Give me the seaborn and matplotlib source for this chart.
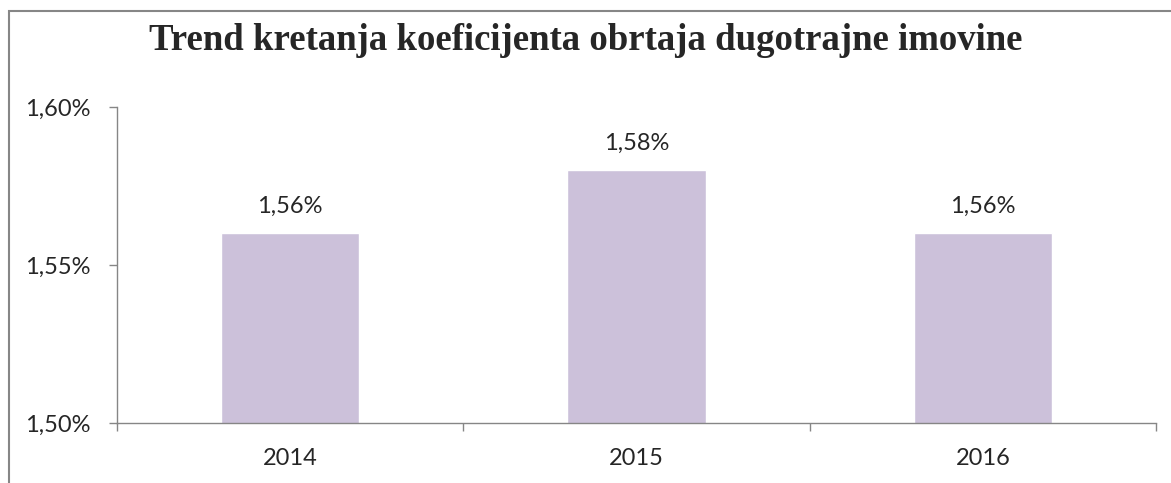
import pandas as pd
import matplotlib.pyplot as plt
from matplotlib.patches import Rectangle
from matplotlib.ticker import FuncFormatter
import seaborn as sns

years = ['2014', '2015', '2016']
values = [1.56, 1.58, 1.56]
y_ticks = [1.50, 1.55, 1.60]
title = 'Trend kretanja koeficijenta obrtaja dugotrajne imovine'

bar_color = '#CCC1DA'
axis_color = '#868686'

sns.set_style('white')
plt.rcParams['font.family'] = ['Lato', 'DejaVu Sans']

df = pd.DataFrame({'year': years, 'value': values})

W, H = 1171, 483
fig = plt.figure(figsize=(W / 100, H / 100), dpi=100)
ax = fig.add_axes([117 / W, (H - 423) / H, (1156 - 117) / W, (423 - 107) / H])

sns.barplot(data=df, x='year', y='value', color=bar_color, width=0.4,
            saturation=1, ax=ax)

ax.set_ylim(1.50, 1.60)
ax.set_xlim(-0.5, 2.5)
ax.set_yticks(y_ticks)
ax.yaxis.set_major_formatter(FuncFormatter(lambda v, p: f'{v:.2f}%'.replace('.', ',')))
ax.set_xticks([-0.5, 0.5, 1.5, 2.5], minor=True)
ax.tick_params(axis='x', which='major', bottom=True, length=0, pad=18, labelsize=17)
ax.tick_params(axis='x', which='minor', bottom=True, length=6, width=1, color=axis_color)
ax.tick_params(axis='y', left=True, length=6, width=1, color=axis_color, pad=13, labelsize=17)
ax.set_xlabel('')
ax.set_ylabel('')

for side in ['top', 'right']:
    ax.spines[side].set_visible(False)
for side in ['left', 'bottom']:
    ax.spines[side].set_color(axis_color)
    ax.spines[side].set_linewidth(1)

for i, v in enumerate(values):
    ax.annotate(f'{v:.2f}%'.replace('.', ','), (i, v), xytext=(0, 12),
                textcoords='offset points', ha='center', va='bottom', fontsize=17)

fig.text(0.5, 1 - 40 / H, title, ha='center', va='center', fontsize=26.5,
         fontweight='bold', family=['Liberation Serif', 'DejaVu Serif'])

# chart-area frame (cut off at right and bottom in the original)
fig.patches.append(Rectangle((8.5 / W, -0.1), 2, 1.1 - 11.5 / H,
                             transform=fig.transFigure, fill=False,
                             edgecolor=axis_color, linewidth=1.5))

fig.savefig('out.png', dpi=100)
